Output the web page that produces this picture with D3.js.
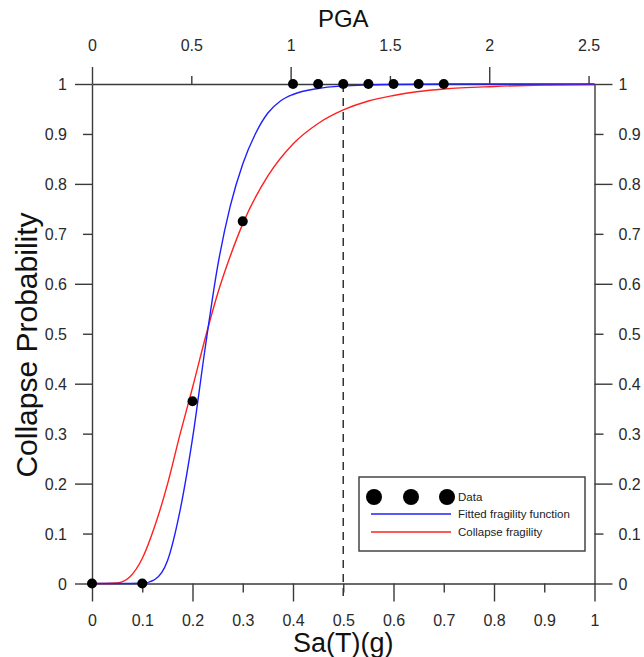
<!DOCTYPE html>
<html><head><meta charset="utf-8">
<script src="https://cdn.jsdelivr.net/npm/d3@7"></script>
<style>
html,body{margin:0;padding:0;background:#fff;}
svg{display:block;font-family:"Liberation Sans",Arial,sans-serif;}
</style></head>
<body>
<svg id="chart" width="644" height="657"></svg>
<script>
// ---- data ----
const dataSa   = [0, 0.1, 0.2, 0.3, 0.4, 0.45, 0.5, 0.55, 0.6, 0.65, 0.7];
const dataProb = [0, 0, 0.365, 0.725, 1, 1, 1, 1, 1, 1, 1];

const fittedSa   = [0, 0.05, 0.1, 0.125, 0.15, 0.175, 0.2, 0.225, 0.25, 0.275, 0.3, 0.325, 0.35, 0.375, 0.4, 0.45, 0.5, 0.55, 0.6, 0.7, 0.8, 0.9, 1.0];
const fittedProb = [0, 0, 0.0005, 0.008, 0.045, 0.145, 0.29, 0.47, 0.635, 0.755, 0.84, 0.9, 0.942, 0.966, 0.979, 0.991, 0.996, 0.998, 0.999, 1, 1, 1, 1];

const collapseSa   = [0, 0.025, 0.05, 0.075, 0.1, 0.125, 0.15, 0.175, 0.2, 0.225, 0.25, 0.275, 0.3, 0.35, 0.4, 0.45, 0.5, 0.55, 0.6, 0.65, 0.7, 0.8, 0.9, 1.0];
const collapseProb = [0, 0, 0.001, 0.013, 0.05, 0.115, 0.198, 0.298, 0.392, 0.49, 0.58, 0.655, 0.72, 0.816, 0.88, 0.921, 0.948, 0.966, 0.977, 0.985, 0.99, 0.995, 0.998, 0.999];

const saTicks   = [0, 0.1, 0.2, 0.3, 0.4, 0.5, 0.6, 0.7, 0.8, 0.9, 1];
const probTicks = [0, 0.1, 0.2, 0.3, 0.4, 0.5, 0.6, 0.7, 0.8, 0.9, 1];
const pgaTicks  = [0, 0.5, 1, 1.5, 2, 2.5];
const pgaMajor  = [0, 1, 2];
const saMajor   = [0, 0.2, 0.4, 0.6, 0.8, 1];
const probMajor = [0, 0.2, 0.4, 0.6, 0.8, 1];
const dashedSa  = 0.5;

// ---- layout ----
const svg = d3.select("#chart");
const L = 92, R = 594.5, T = 84, B = 583.5;
const x = d3.scaleLinear().domain([0, 1]).range([L, R]);
const xPGA = d3.scaleLinear().domain([0, 2.53]).range([L, R]);
const y = d3.scaleLinear().domain([0, 1]).range([B, T]);
const axisColor = "#3a3a3a";
const tickFont = 16;
const fmt = d => String(+d.toFixed(2));
const near = (a, arr) => arr.some(v => Math.abs(v - a) < 1e-9);

function styleAxis(g){
  g.selectAll("path.domain").attr("stroke", axisColor).attr("stroke-width", 1.4);
  g.selectAll(".tick line").attr("stroke", axisColor).attr("stroke-width", 1.4);
  g.selectAll(".tick text").attr("fill", "#2a2a2a").attr("font-size", tickFont)
   .attr("font-family", "'Liberation Sans', Arial, sans-serif");
}

// bottom axis
const gB = svg.append("g").attr("transform", `translate(0,${B})`)
  .call(d3.axisBottom(x).tickValues(saTicks).tickSize(9).tickSizeOuter(0).tickFormat(fmt));
gB.selectAll(".tick line").attr("y2", d => near(d, saMajor) ? 18 : 9);
gB.selectAll(".tick text").attr("y", 37).attr("dy", "0.35em");
styleAxis(gB);

// left axis
const gL = svg.append("g").attr("transform", `translate(${L},0)`)
  .call(d3.axisLeft(y).tickValues(probTicks).tickSize(9).tickSizeOuter(0).tickFormat(fmt));
gL.selectAll(".tick line").attr("x2", d => near(d, probMajor) ? -17 : -9);
gL.selectAll(".tick text").attr("x", -25).attr("dy", "0.35em");
styleAxis(gL);

// right axis
const gR = svg.append("g").attr("transform", `translate(${R},0)`)
  .call(d3.axisRight(y).tickValues(probTicks).tickSize(9).tickSizeOuter(0).tickFormat(fmt));
gR.selectAll(".tick line").attr("x2", d => near(d, probMajor) ? 18 : 9);
gR.selectAll(".tick text").attr("x", 24).attr("dy", "0.35em");
styleAxis(gR);

// top axis (PGA)
const gT = svg.append("g").attr("transform", `translate(0,${T})`)
  .call(d3.axisTop(xPGA).tickValues(pgaTicks).tickSize(9).tickSizeOuter(0).tickFormat(fmt));
gT.selectAll(".tick line").attr("y2", d => near(d, pgaMajor) ? -17 : -8);
gT.selectAll(".tick text").attr("y", -39).attr("dy", "0.35em");
styleAxis(gT);

// titles
svg.append("text").attr("x", (L + R) / 2).attr("y", 18).attr("text-anchor", "middle")
  .attr("dominant-baseline", "central").attr("font-size", 24).attr("fill", "#111").text("PGA");
svg.append("text").attr("x", (L + R) / 2).attr("y", 643).attr("text-anchor", "middle")
  .attr("dominant-baseline", "central").attr("font-size", 27).attr("fill", "#111").text("Sa(T)(g)");
svg.append("text").attr("transform", "translate(26,345) rotate(-90)").attr("text-anchor", "middle")
  .attr("dominant-baseline", "central").attr("font-size", 30).attr("fill", "#111").text("Collapse Probability");

// dashed line
svg.append("line").attr("x1", x(dashedSa)).attr("x2", x(dashedSa)).attr("y1", y(1)).attr("y2", B + 15)
  .attr("stroke", "#333").attr("stroke-width", 1.5).attr("stroke-dasharray", "8,6");

// curves
const line = d3.line().x(d => x(d[0])).y(d => y(d[1])).curve(d3.curveMonotoneX);
svg.append("path").datum(collapseSa.map((s, i) => [s, collapseProb[i]]))
  .attr("d", line).attr("fill", "none").attr("stroke", "#ff2020").attr("stroke-width", 1.4);
svg.append("path").datum(fittedSa.map((s, i) => [s, fittedProb[i]]))
  .attr("d", line).attr("fill", "none").attr("stroke", "#2020ff").attr("stroke-width", 1.4);

// data points
svg.append("g").selectAll("circle").data(dataSa.map((s, i) => [s, dataProb[i]])).join("circle")
  .attr("cx", d => x(d[0])).attr("cy", d => y(d[1])).attr("r", 5).attr("fill", "#000");

// legend
const lg = svg.append("g");
lg.append("rect").attr("x", 359).attr("y", 477).attr("width", 226).attr("height", 74)
  .attr("fill", "#fff").attr("stroke", "#444").attr("stroke-width", 1.5);
[374, 411, 447].forEach(cx => lg.append("circle").attr("cx", cx).attr("cy", 497).attr("r", 8).attr("fill", "#000"));
lg.append("line").attr("x1", 371).attr("x2", 451).attr("y1", 514).attr("y2", 514).attr("stroke", "#2020ff").attr("stroke-width", 1.4);
lg.append("line").attr("x1", 371).attr("x2", 451).attr("y1", 532).attr("y2", 532).attr("stroke", "#ff2020").attr("stroke-width", 1.4);
const legendItems = [["Data", 497], ["Fitted fragility function", 514], ["Collapse fragility", 532]];
legendItems.forEach(([t, yy]) => lg.append("text").attr("x", 458).attr("y", yy)
  .attr("dominant-baseline", "central").attr("font-size", 11.5).attr("fill", "#222").text(t));
</script>
</body></html>
